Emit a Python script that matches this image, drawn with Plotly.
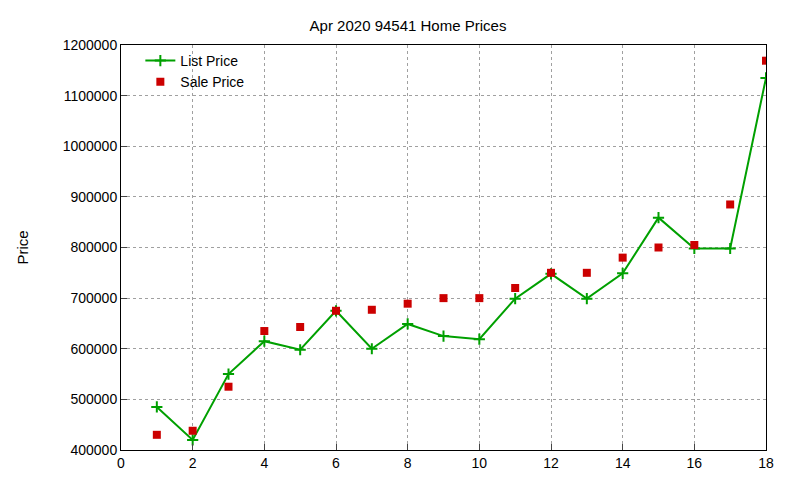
import plotly.graph_objects as go

x = list(range(1, 19))
list_price = [485000, 420000, 550000, 615000, 598000, 675000, 600000, 649000, 625000,
              619000, 699000, 748000, 699000, 749000, 859000, 798000, 798000, 1135000]
sale_price = [430000, 438000, 525000, 635000, 643000, 675000, 677000, 689000, 700000,
              700000, 720000, 750000, 750000, 780000, 800000, 805000, 885000, 1169000]

fig = go.Figure()
fig.add_trace(go.Scatter(x=x, y=list_price, mode="lines+markers", name="List Price",
                         line=dict(color="#00a000", width=2),
                         marker=dict(symbol="cross-thin", size=8, line=dict(color="#00a000", width=2))))
fig.add_trace(go.Scatter(x=x, y=sale_price, mode="markers", name="Sale Price",
                         marker=dict(symbol="square", size=8, color="#cc0000")))

axis = dict(showline=True, linecolor="black", mirror=True, ticks="inside", ticklen=6,
            showgrid=True, gridcolor="#a0a0a0", griddash="dot", gridwidth=1,
            zeroline=False, automargin=False, tickfont=dict(size=14, color="black"))
fig.update_xaxes(range=[0, 18], dtick=2, **axis)
fig.update_yaxes(range=[400000, 1200000], dtick=100000, tickformat="d",
                 title=dict(text="Price", font=dict(size=15, color="black"), standoff=30), **axis)
fig.update_layout(width=800, height=480, plot_bgcolor="white", paper_bgcolor="white",
                  margin=dict(l=113, r=42, t=37, b=38),
                  font=dict(family="Liberation Sans, Arial", color="black"),
                  title=dict(text="Apr 2020 94541 Home Prices", x=0.5, y=0.975,
                             font=dict(size=15, color="black")),
                  legend=dict(x=0.03, y=1.0, bgcolor="rgba(0,0,0,0)", font=dict(size=14),
                              tracegroupgap=0))
fig.write_html("out.html")
